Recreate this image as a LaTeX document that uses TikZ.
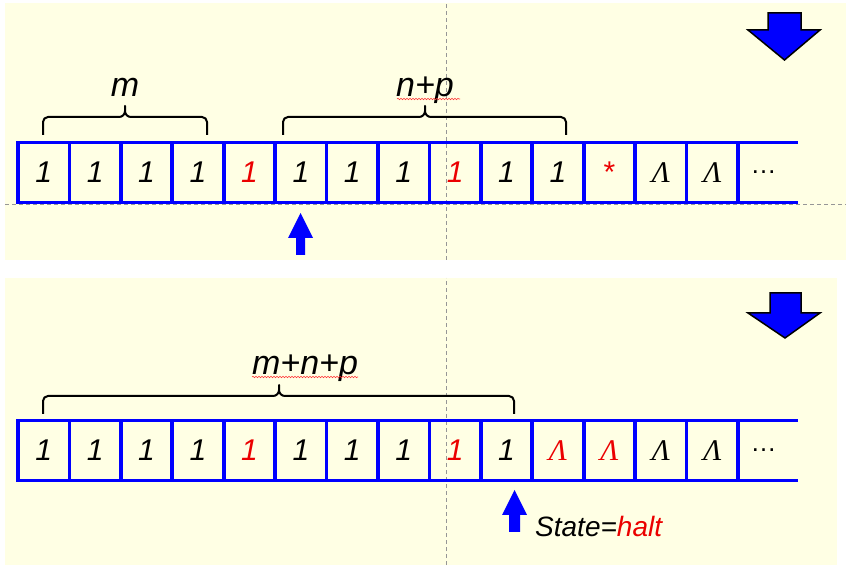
\documentclass[tikz,border=0pt]{standalone}
\usepackage{fontspec}
\setmainfont{Liberation Sans}
\newfontfamily\lamfont{Liberation Serif}
\usetikzlibrary{decorations.pathmorphing}
\definecolor{cream}{RGB}{255,255,228}
\definecolor{tblue}{RGB}{0,0,255}
\definecolor{tred}{RGB}{235,0,0}
\definecolor{guide}{RGB}{150,150,150}
\newcommand\Lam{{\lamfont\itshape Λ}}
\newcommand\Ast{{\upshape\raisebox{-8pt}{*}}}
% square brace: x1, x2, xm, y of horizontal line
\newcommand\sqbrace[4]{%
  \draw[bracestyle] (#1,#4-18) -- (#1,#4-5) arc[start angle=180,end angle=90,radius=5]
    -- (#3-6,#4) arc[start angle=270,end angle=360,radius=6] -- (#3,#4+11)
    -- (#3,#4+6) arc[start angle=180,end angle=270,radius=6]
    -- (#2-5,#4) arc[start angle=90,end angle=0,radius=5] -- (#2,#4-18);}
\begin{document}
\begin{tikzpicture}[x=1pt,y=1pt,
  cell/.style={draw=tblue,line width=3.8pt,minimum width=51.43pt,minimum height=60pt,
    inner sep=0pt,outer sep=0pt,font=\fontsize{30}{32}\selectfont\itshape},
  opencell/.style={minimum width=51.43pt,minimum height=60pt,inner sep=0pt,outer sep=0pt,
    font=\fontsize{26}{30}\selectfont},
  tapeline/.style={draw=tblue,line width=3.8pt},
  bracestyle/.style={draw=black,line width=2pt,line join=round},
  label/.style={font=\fontsize{34}{36}\selectfont\itshape,anchor=base,inner sep=0pt},
  guideline/.style={draw=guide,line width=0.8pt,dash pattern=on 4pt off 3pt},
  squiggle/.style={draw=red!80,line width=0.6pt,decorate,
    decoration={snake,amplitude=0.7pt,segment length=3pt}},
  bigarrow/.style={fill=tblue,draw=black,line width=1.5pt,line join=miter},
  smallarrow/.style={fill=tblue,draw=none}]
\useasboundingbox (0,0) rectangle (846,565);
% panels
\fill[cream] (5,305) rectangle (846,562);
\fill[cream] (5,0) rectangle (837,287);
% guide lines
\draw[guideline] (446,305) -- (446,562);
\draw[guideline] (446,0) -- (446,287);
\draw[guideline] (5,361) -- (846,361);
% top tape
\foreach \i/\t/\c in {1/1/black,2/1/black,3/1/black,4/1/black,5/1/tred,6/1/black,7/1/black,
  8/1/black,9/1/tred,10/1/black,11/1/black,12/\Ast/tred,13/\Lam/black,14/\Lam/black}
  \node[cell,text=\c] (t\i) at ({18+51.43*(\i-0.5)},392.5) {\t};
\node[opencell] (t15) at ({18+51.43*14.5},392.5) {…};
\coordinate (tendn) at (798,422.5);
\coordinate (tends) at (798,362.5);
\draw[tapeline] (t14.north east) -- (tendn);
\draw[tapeline] (t14.south east) -- (tends);
% bottom tape
\foreach \i/\t/\c in {1/1/black,2/1/black,3/1/black,4/1/black,5/1/tred,6/1/black,7/1/black,
  8/1/black,9/1/tred,10/1/black,11/\Lam/tred,12/\Lam/tred,13/\Lam/black,14/\Lam/black}
  \node[cell,text=\c] (b\i) at ({18+51.43*(\i-0.5)},114.5) {\t};
\node[opencell] (b15) at ({18+51.43*14.5},114.5) {…};
\coordinate (bendn) at (798,144.5);
\coordinate (bends) at (798,84.5);
\draw[tapeline] (b14.north east) -- (bendn);
\draw[tapeline] (b14.south east) -- (bends);
% braces and labels
\sqbrace{43}{207}{125}{448}
\sqbrace{283}{566}{425}{448}
\sqbrace{43}{514}{279}{169}
\node[label] (lm) at (125,468) {m};
\node[label] (lnp) at (425,468) {n+p};
\node[label] (lmnp) at (305,190) {m+n+p};
\draw[squiggle] (397,466) -- (460,466);
\draw[squiggle] (252,188) -- (358,188);
% big down arrows
\draw[bigarrow] (768,552) -- (801,552) -- (801,535) -- (820,535) -- (784.5,505) -- (748,535) -- (768,535) -- cycle;
\draw[bigarrow] (770,272) -- (801,272) -- (801,252) -- (820,252) -- (785,227) -- (748,252) -- (770,252) -- cycle;
% head arrows
\fill[smallarrow] (296,310) -- (305,310) -- (305,327) -- (313,327) -- (300.5,352) -- (288,327) -- (296,327) -- cycle;
\fill[smallarrow] (509,33) -- (520,33) -- (520,50) -- (527,50) -- (514.5,75) -- (502,50) -- (509,50) -- cycle;
\node[anchor=base west,inner sep=0pt,font=\fontsize{28}{30}\selectfont\itshape] (state) at (535,28) {State=\textcolor{tred}{halt}};
\end{tikzpicture}
\end{document}
